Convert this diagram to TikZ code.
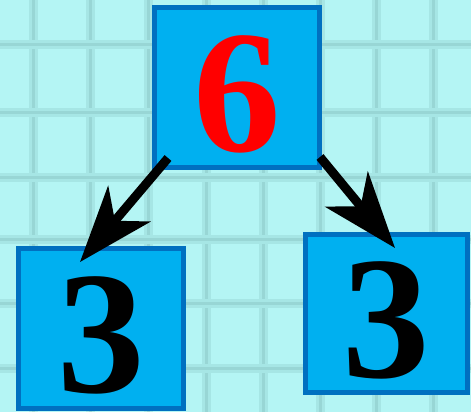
\documentclass[tikz,border=0pt]{standalone}
\usepackage{fontspec}
\setmainfont{Liberation Serif}
\usetikzlibrary{arrows.meta,positioning,calc}
\definecolor{paper}{HTML}{B4F5F4}
\definecolor{gridband}{HTML}{A6E6E5}
\definecolor{gridcore}{HTML}{98D6D5}
\definecolor{boxfill}{HTML}{00B0F0}
\definecolor{boxedge}{HTML}{0070C0}
\definecolor{digitred}{HTML}{FF0000}

\begin{document}
\begin{tikzpicture}[
    x=1bp,y=-1bp,
    numbox/.style={draw=boxedge,line width=5bp,fill=boxfill,rectangle,inner sep=0pt,outer sep=0pt,
        font=\fontsize{175bp}{175bp}\selectfont\bfseries,text height=128bp,text depth=0pt},
    split/.style={-{Stealth[length=76bp,width=55bp,inset=22bp]},line width=9bp,black}
]
\useasboundingbox (0,0) rectangle (471,412);
\fill[paper] (0,0) rectangle (471,412);
% grid paper
\foreach \gx in {33,90,148,206,263,320,376,433} {
  \draw[gridband,line width=9bp] (\gx,0) -- (\gx,412);
  \draw[gridcore,line width=3bp] (\gx,0) -- (\gx,412);
}
\foreach \gy in {44,112,177,239,303,368} {
  \draw[gridband,line width=9bp] (0,\gy) -- (471,\gy);
  \draw[gridcore,line width=3bp] (0,\gy) -- (471,\gy);
}

\node[numbox,minimum width=165bp,minimum height=160bp,text=digitred] (top) at (237,87.5) {6};
\node[numbox,minimum width=165bp,minimum height=160bp] (left) at (101,328.5) {3};
\node[numbox,minimum width=162bp,minimum height=158bp] (right) at (386.5,313.5) {3};

\draw[split] ([shift={(13.5,-9.5)}]top.south west) -- ([shift={(61.5,13.5)}]left.north west);
\draw[split] ([shift={(0.5,-10.5)}]top.south east) -- ([shift={(89.5,13.5)}]right.north west);
\end{tikzpicture}
\end{document}
